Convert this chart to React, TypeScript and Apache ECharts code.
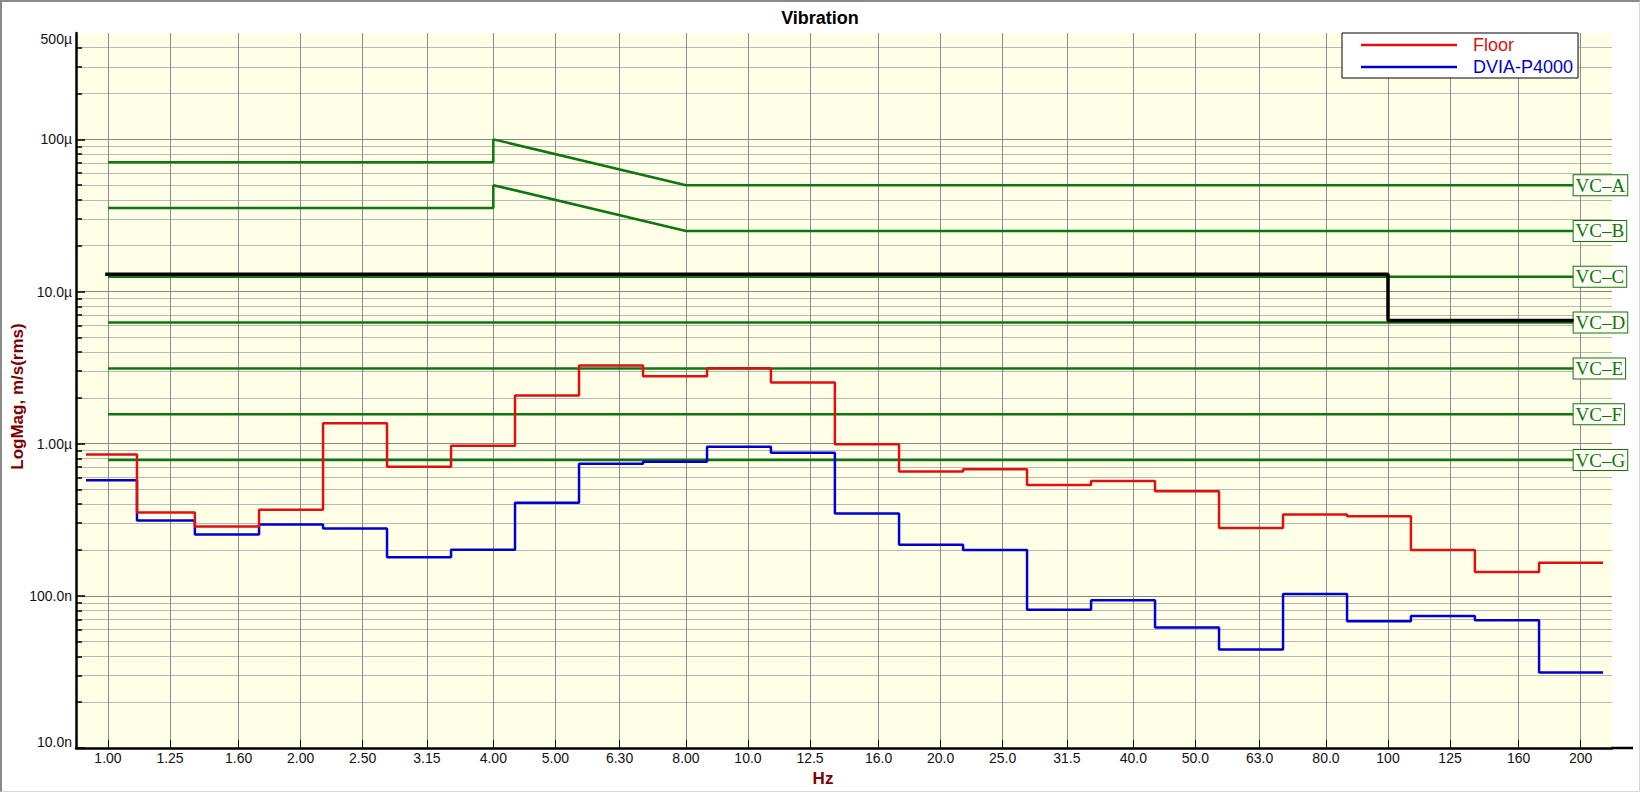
import React, { useEffect, useRef } from 'react';
import * as echarts from 'echarts';

// 1/3-octave band edges (Hz), 24 bands -> 25 edges
const bandEdgesHz = [0.924, 1.11, 1.367, 1.722, 2.168, 2.729, 3.436, 4.325, 5.445, 6.855, 8.63, 10.86, 13.67, 17.22, 21.68, 27.29, 34.36, 43.25, 54.45, 68.55, 86.3, 108.6, 136.7, 172.2, 216.8];

// m/s (rms)
const floorValues = [0.848e-6, 0.353e-6, 0.286e-6, 0.368e-6, 1.36e-6, 0.706e-6, 0.97e-6, 2.07e-6, 3.27e-6, 2.77e-6, 3.13e-6, 2.52e-6, 0.99e-6, 0.656e-6, 0.678e-6, 0.535e-6, 0.569e-6, 0.486e-6, 0.279e-6, 0.343e-6, 0.333e-6, 0.2e-6, 0.1435e-6, 0.165e-6];
const dviaValues = [0.574e-6, 0.313e-6, 0.253e-6, 0.294e-6, 0.277e-6, 0.179e-6, 0.201e-6, 0.409e-6, 0.738e-6, 0.762e-6, 0.955e-6, 0.873e-6, 0.348e-6, 0.217e-6, 0.2e-6, 81e-9, 93.5e-9, 62e-9, 44.4e-9, 103e-9, 68.2e-9, 73.8e-9, 69.2e-9, 31.3e-9];

// VC criteria
const vcNames = ['VC–A', 'VC–B', 'VC–C', 'VC–D', 'VC–E', 'VC–F', 'VC–G'];
const vcLevels = [50e-6, 25e-6, 12.5e-6, 6.25e-6, 3.125e-6, 1.5625e-6, 0.78e-6];
const vcStartHz = 1;
const vcEndHz = 195;
const vcAFreq = [1, 4, 4, 8, 195];
const vcAValues = [70.7e-6, 70.7e-6, 100e-6, 50e-6, 50e-6];
const vcBFreq = [1, 4, 4, 8, 195];
const vcBValues = [35.4e-6, 35.4e-6, 50e-6, 25e-6, 25e-6];

// black limit line
const limitFreq = [0.99, 100, 100, 195];
const limitValues = [13e-6, 13e-6, 6.45e-6, 6.45e-6];

// axes
const xTickHz = [1, 1.25, 1.6, 2, 2.5, 3.15, 4, 5, 6.3, 8, 10, 12.5, 16, 20, 25, 31.5, 40, 50, 63, 80, 100, 125, 160, 200];
const xTickLabels = ['1.00', '1.25', '1.60', '2.00', '2.50', '3.15', '4.00', '5.00', '6.30', '8.00', '10.0', '12.5', '16.0', '20.0', '25.0', '31.5', '40.0', '50.0', '63.0', '80.0', '100', '125', '160', '200'];
const yLabelValues = [1e-8, 1e-7, 1e-6, 1e-5, 1e-4, 5e-4];
const yLabelTexts = ['10.0n', '100.0n', '1.00µ', '10.0µ', '100µ', '500µ'];
const yMajorTicks = [1e-8, 1e-7, 1e-6, 1e-5, 1e-4];
const yMinorTicks = [
  2e-8, 3e-8, 4e-8, 5e-8, 6e-8, 7e-8, 8e-8, 9e-8,
  2e-7, 3e-7, 4e-7, 5e-7, 6e-7, 7e-7, 8e-7, 9e-7,
  2e-6, 3e-6, 4e-6, 5e-6, 6e-6, 7e-6, 8e-6, 9e-6,
  2e-5, 3e-5, 4e-5, 5e-5, 6e-5, 7e-5, 8e-5, 9e-5,
  2e-4, 3e-4, 4e-4,
];

const FONT = "'Liberation Sans', Arial, sans-serif";
const RED = '#e01010';
const BLUE = '#0000d0';
const GREEN = '#0f760f';
const DARKRED = '#800000';

function nearestIndex(arr: number[], v: number) {
  let best = 0;
  let bd = Infinity;
  arr.forEach((a, i) => {
    const d = Math.abs(Math.log10(a) - Math.log10(v));
    if (d < bd) { bd = d; best = i; }
  });
  return best;
}

function stepData(vals: number[]) {
  const pts: number[][] = vals.map((v, i) => [bandEdgesHz[i], v]);
  pts.push([bandEdgesHz[vals.length], vals[vals.length - 1]]);
  return pts;
}

export default function App() {
  const ref = useRef<HTMLDivElement>(null);
  useEffect(() => {
    document.body.style.margin = '0';
    if (!ref.current) return;
    const chart = echarts.init(ref.current, undefined, { renderer: 'svg' });

    const vcSeries = vcNames.map((name, i) => {
      let data: number[][];
      if (i === 0) data = vcAFreq.map((f, k) => [f, vcAValues[k]]);
      else if (i === 1) data = vcBFreq.map((f, k) => [f, vcBValues[k]]);
      else data = [[vcStartHz, vcLevels[i]], [vcEndHz, vcLevels[i]]];
      return {
        name,
        type: 'line',
        data,
        showSymbol: false,
        silent: true,
        z: 2,
        lineStyle: { color: GREEN, width: 2.5 },
        itemStyle: { color: GREEN },
        emphasis: { disabled: true },
        endLabel: {
          show: true,
          formatter: name,
          distance: 0,
          color: GREEN,
          fontFamily: "'Liberation Serif', 'DejaVu Serif', serif",
          fontSize: 19,
          lineHeight: 18,
          backgroundColor: '#fffff6',
          borderColor: GREEN,
          borderWidth: 1,
          padding: [1, 2, 1, 2],
        },
      };
    });

    const option: any = {
      animation: false,
      backgroundColor: '#ffffff',
      title: {
        text: 'Vibration',
        left: 'center',
        top: 4,
        textStyle: { fontFamily: FONT, fontSize: 18, fontWeight: 'bold', color: '#000' },
      },
      legend: {
        data: [
          { name: 'Floor', textStyle: { color: RED } },
          { name: 'DVIA-P4000', textStyle: { color: BLUE } },
        ],
        orient: 'vertical',
        left: 1342,
        top: 33,
        icon: 'rect',
        itemWidth: 96,
        itemHeight: 2.5,
        itemGap: 2,
        padding: [2, 5, 1, 19],
        backgroundColor: '#ffffff',
        borderColor: '#000',
        borderWidth: 1,
        selectedMode: false,
        z: 10,
        textStyle: { fontFamily: FONT, fontSize: 18, lineHeight: 20, padding: [0, 0, 0, 11] },
      },
      grid: {
        left: 76,
        top: 33,
        right: 28,
        bottom: 44,
        show: true,
        backgroundColor: '#ffffe8',
        borderWidth: 0,
        containLabel: false,
        outerBoundsMode: 'none',
      },
      xAxis: {
        type: 'log',
        logBase: 10,
        min: 0.8913,
        max: 223.87,
        axisLine: { show: true, lineStyle: { color: '#000', width: 2.5 } },
        axisTick: { show: true, inside: true, length: 8, customValues: xTickHz, lineStyle: { color: '#000', width: 1 } },
        axisLabel: {
          show: true,
          customValues: xTickHz,
          margin: 3,
          color: '#111',
          fontFamily: FONT,
          fontSize: 14,
          formatter: (v: number) => xTickLabels[nearestIndex(xTickHz, v)],
        },
        splitLine: { show: true, lineStyle: { color: '#8c8c8c', width: 1 } },
        minorTick: { show: false },
        minorSplitLine: { show: false },
        name: 'Hz',
        nameLocation: 'middle',
        nameGap: 22,
        nameMoveOverlap: false,
        nameTextStyle: { color: DARKRED, fontFamily: FONT, fontSize: 17, fontWeight: 'bold', padding: [0, 42, 0, 0] },
      },
      yAxis: [
        {
          type: 'log',
          logBase: 10,
          min: 1e-8,
          max: 5e-4,
          position: 'left',
          offset: 0,
          axisLine: { show: true, lineStyle: { color: '#000', width: 2.5 } },
          axisTick: { show: true, inside: true, length: 9, customValues: yMajorTicks, lineStyle: { color: '#000', width: 1.5 } },
          axisLabel: {
            show: true,
            customValues: yLabelValues,
            margin: 4,
            color: '#111',
            fontFamily: FONT,
            fontSize: 14,
            formatter: (v: number) => {
              const i = nearestIndex(yLabelValues, v);
              const t = yLabelTexts[i];
              if (i === yLabelValues.length - 1) return '{top|' + t + '}';
              if (i === 0) return '{bot|' + t + '}';
              return t;
            },
            rich: {
              top: { fontFamily: FONT, fontSize: 14, color: '#111', padding: [12, 0, 0, 0] },
              bot: { fontFamily: FONT, fontSize: 14, color: '#111', padding: [0, 0, 12, 0] },
            },
          },
          splitLine: { show: true, lineStyle: { color: '#858585', width: 1 } },
          name: 'LogMag, m/s(rms)',
          nameLocation: 'middle',
          nameGap: 50,
          nameMoveOverlap: false,
          nameTextStyle: { color: DARKRED, fontFamily: FONT, fontSize: 17, fontWeight: 'bold', padding: [0, 12, 0, 0] },
        },
        {
          type: 'log',
          logBase: 10,
          min: 1e-8,
          max: 5e-4,
          position: 'left',
          offset: 0,
          axisLine: { show: false },
          axisTick: { show: true, inside: true, length: 6, customValues: yMinorTicks, lineStyle: { color: '#000', width: 1.5 } },
          axisLabel: { show: false },
          splitLine: { show: true, lineStyle: { color: '#b8b8b8', width: 1 } },
        },
      ],
      graphic: [
        { type: 'line', shape: { x1: 1611, y1: 748, x2: 1633, y2: 748 }, style: { stroke: '#000', lineWidth: 2.5 }, z: 5 },
      ],
      series: [
        ...vcSeries,
        {
          name: 'Limit',
          type: 'line',
          data: limitFreq.map((f, k) => [f, limitValues[k]]),
          showSymbol: false,
          silent: true,
          z: 4,
          lineStyle: { color: '#000', width: 3.5 },
          itemStyle: { color: '#000' },
        },
        {
          name: 'DVIA-P4000',
          type: 'line',
          step: 'end',
          data: stepData(dviaValues),
          showSymbol: false,
          z: 3,
          lineStyle: { color: BLUE, width: 2.5 },
          itemStyle: { color: BLUE },
        },
        {
          name: 'Floor',
          type: 'line',
          step: 'end',
          data: stepData(floorValues),
          showSymbol: false,
          z: 3,
          lineStyle: { color: RED, width: 2.5 },
          itemStyle: { color: RED },
        },
      ],
    };
    chart.setOption(option);
    return () => chart.dispose();
  }, []);

  return (
    <div style={{ position: 'relative', width: 1640, height: 792 }}>
      <div ref={ref} style={{ position: 'absolute', left: 0, top: 0, width: 1640, height: 792 }} />
      <div
        style={{
          position: 'absolute',
          left: 0,
          top: 0,
          width: 1640,
          height: 792,
          boxSizing: 'border-box',
          borderTop: '2px solid #8a8a8a',
          borderLeft: '2px solid #8a8a8a',
          borderBottom: '1px solid #d8d8d8',
          borderRight: '1px solid #d8d8d8',
          pointerEvents: 'none',
        }}
      />
    </div>
  );
}
